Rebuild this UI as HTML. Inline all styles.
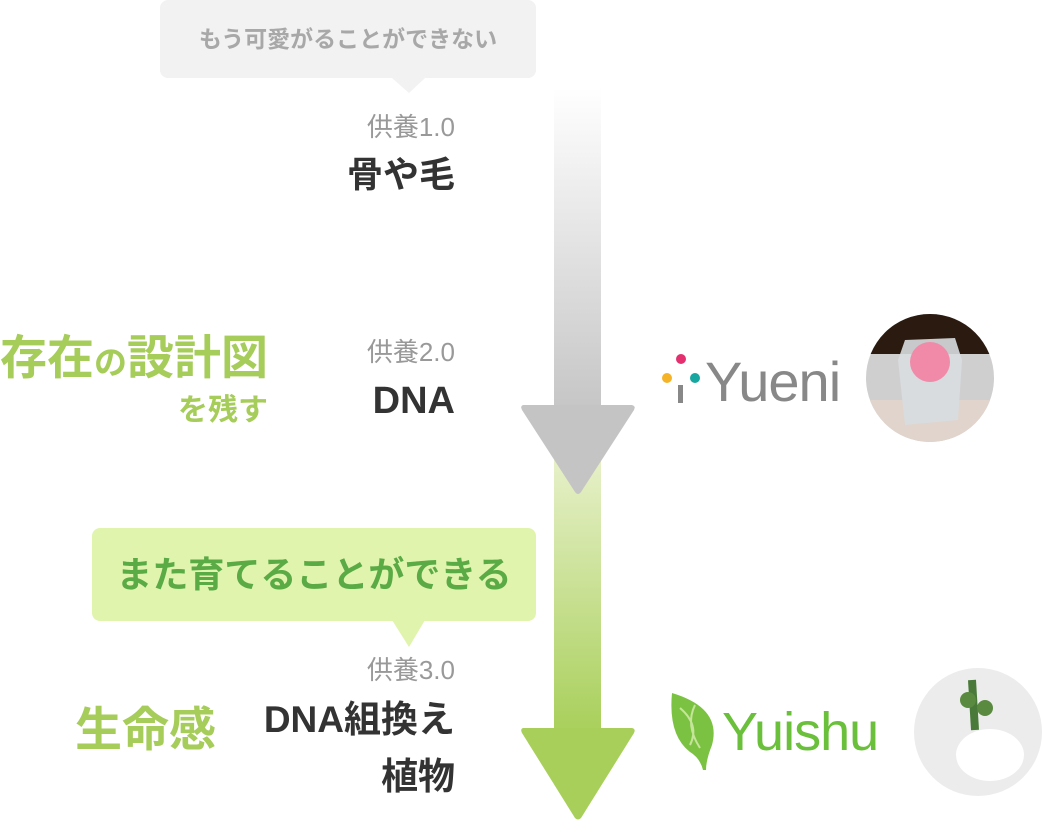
<!DOCTYPE html>
<html><head><meta charset="utf-8"><style>
body{margin:0;width:1042px;height:820px;background:#fff;position:relative;overflow:hidden;font-family:"Liberation Sans","Noto Sans CJK JP",sans-serif}
.a{position:absolute;white-space:nowrap;line-height:1}
.r{text-align:right}
</style></head><body>
<svg class="a" style="left:0;top:0" width="1042" height="820">
<defs>
<linearGradient id="g1" x1="0" y1="0" x2="0" y2="1"><stop offset="0" stop-color="#fff"/><stop offset="1" stop-color="#c4c4c4"/></linearGradient>
<linearGradient id="g2" x1="0" y1="0" x2="0" y2="1"><stop offset="0" stop-color="#e6f0c8"/><stop offset="1" stop-color="#a8cf5a"/></linearGradient>
</defs>
<rect x="160" y="0" width="376" height="78" rx="8" fill="#f2f2f2"/>
<polygon points="392,78 425,78 409,93" fill="#f2f2f2"/>
<rect x="92" y="528" width="444" height="93" rx="8" fill="#e0f4ad"/>
<polygon points="392,620 425,620 409,647" fill="#e0f4ad"/>
<rect x="554" y="460" width="47" height="275" fill="url(#g2)"/>
<path d="M523,728 L632,728 Q636,729 634,733 L581,818 Q578,821 575,818 L522,733 Q520,729 523,728Z" fill="#a8cf5a"/>
<rect x="554" y="88" width="47" height="330" fill="url(#g1)"/>
<path d="M523,405 L632,405 Q636,406 634,410 L581,492 Q578,496 575,492 L522,410 Q520,406 523,405Z" fill="#c4c4c4"/>
<circle cx="681" cy="359" r="5" fill="#e4306f"/>
<circle cx="667" cy="378" r="5" fill="#f5b428"/>
<circle cx="695" cy="378" r="5" fill="#17a6a0"/>
<rect x="678" y="385" width="5" height="18" fill="#888"/>
<path d="M672,693 Q722,708 712,745 Q706,760 706,770 L703,770 Q700,758 690,752 Q668,735 672,693Z" fill="#7cc242"/>
<path d="M680,708 Q700,725 690,745 M695,705 Q685,725 700,748" stroke="#c5e59a" stroke-width="2" fill="none"/>
<defs><clipPath id="c1"><circle cx="930" cy="378" r="64"/></clipPath><clipPath id="c2"><circle cx="978" cy="732" r="64"/></clipPath></defs>
<g clip-path="url(#c1)">
<rect x="866" y="314" width="128" height="128" fill="#cfcfcf"/>
<rect x="866" y="314" width="128" height="40" fill="#2a1a10"/>
<rect x="866" y="400" width="128" height="42" fill="#e0d4cc"/>
<polygon points="905,340 955,338 962,360 958,420 905,425 898,360" fill="#d8dde0" opacity="0.9"/>
<circle cx="930" cy="362" r="20" fill="#f08aa8"/>
</g>
<g clip-path="url(#c2)">
<rect x="914" y="668" width="128" height="128" fill="#ececec"/>
<ellipse cx="990" cy="755" rx="34" ry="26" fill="#fff"/>
<path d="M972,680 L975,730" stroke="#4a7a3a" stroke-width="8"/>
<circle cx="968" cy="700" r="8" fill="#5a8a40"/><circle cx="985" cy="708" r="8" fill="#5a8a40"/>
</g>
</svg>
<div class="a" style="left:160px;top:28px;width:376px;text-align:center;font-size:23px;font-weight:bold;color:#a8a8a8">もう可愛がることができない</div>
<div class="a r" style="right:587px;top:114px;font-size:26px;color:#999">供養1.0</div>
<div class="a r" style="right:587px;top:157px;font-size:36px;font-weight:bold;color:#333">骨や毛</div>
<div class="a r" style="right:587px;top:339px;font-size:26px;color:#999">供養2.0</div>
<div class="a r" style="right:587px;top:382px;font-size:38px;font-weight:bold;color:#333">DNA</div>
<div class="a" style="left:0;top:334px;font-size:47px;font-weight:bold;color:#a6cc5a">存在<span style="font-size:33px">の</span>設計図</div>
<div class="a" style="left:178px;top:396px;font-size:30px;font-weight:bold;color:#a6cc5a">を残す</div>
<div class="a" style="left:92px;top:557px;width:444px;text-align:center;font-size:36px;font-weight:bold;color:#5aaa46">また育てることができる</div>
<div class="a r" style="right:587px;top:657px;font-size:26px;color:#999">供養3.0</div>
<div class="a r" style="right:587px;top:701px;font-size:37px;font-weight:bold;color:#333">DNA組換え</div>
<div class="a r" style="right:587px;top:758px;font-size:37px;font-weight:bold;color:#333">植物</div>
<div class="a" style="left:75px;top:706px;font-size:47px;font-weight:bold;color:#a6cc5a">生命感</div>
<div class="a" style="left:705px;top:354px;font-size:56px;color:#888;letter-spacing:-1px">Yueni</div>
<div class="a" style="left:722px;top:705px;font-size:54px;color:#6abf3b;letter-spacing:-1px">Yuishu</div>
</body></html>
